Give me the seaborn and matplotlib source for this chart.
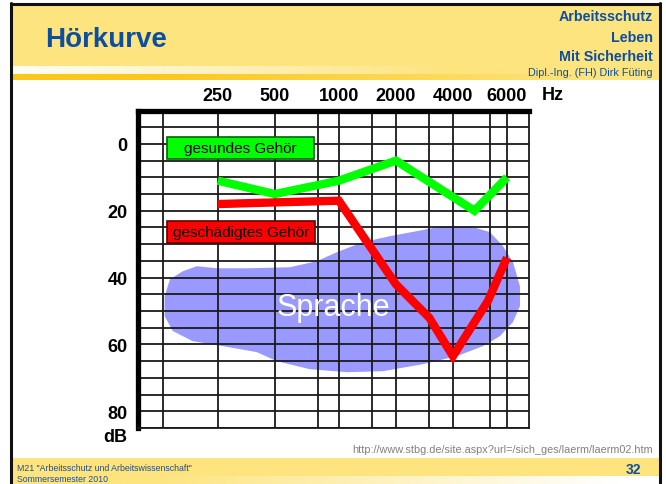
# Hörkurve - Audiogramm (Folie 32)

import numpy as np
import matplotlib
matplotlib.use("Agg")
import matplotlib.pyplot as plt
import seaborn as sns
from matplotlib.patches import Rectangle
from matplotlib import font_manager, colors as mcolors

# Daten
freqs = [250, 500, 1000, 2000, 4000, 6000]
freq_labels = ["250", "500", "1000", "2000", "4000", "6000"]
db_ticks = [0, 20, 40, 60, 80]
db_labels = ["0", "20", "40", "60", "80"]

healthy_hz = [250, 500, 1000, 2000, 4700, 6000]
healthy_db = [11, 15, 11, 5, 20, 10]

damaged_hz = [250, 500, 1000, 2000, 3000, 4000, 5200, 6000]
damaged_db = [18, 17.5, 17, 42, 52, 63.5, 47, 34]

# Sprachbereich ("Sprache"), Umriss
speech_hz = [128, 137, 161, 192, 247, 369, 588, 788, 978, 1339, 1859, 2582, 3543,
             4545, 5280, 5823, 6490, 7110, 7110, 6490, 5694, 5011, 4121, 2778,
             1708, 1102, 730, 511, 402, 266, 182, 142, 128]
speech_db = [45.6, 40.5, 38.1, 36.6, 37.2, 37.2, 36.9, 35.1, 32.4, 29.4, 27.6, 26.1, 24.6,
             24.6, 26.4, 30.6, 35.4, 42.6, 48.5, 53.3, 57.5, 60.5, 63.5, 65.9,
             68.0, 68.3, 67.4, 65.0, 62.3, 60.5, 59.0, 56.0, 51.5]

# Audiogramm-Spalten: Frequenz -> Spaltenposition (nicht logarithmisch gleichmaessig)
col_hz = [62.5, 125, 250, 500, 1000, 2000, 4000, 6000, 8000, 16000]
col_pos = [108, 163, 218, 275, 339, 396, 453, 507, 529, 582]
minor_hz = [125, 800, 1500, 3000, 5300]


def fwd(f):
    f = np.clip(np.asarray(f, dtype=float), 1e-3, None)
    return np.interp(np.log2(f), np.log2(col_hz), col_pos)


def inv(p):
    return 2 ** np.interp(np.asarray(p, dtype=float), col_pos, np.log2(col_hz))


sns.set_theme(style="white")
installed = {f.name for f in font_manager.fontManager.ttflist}
narrow = "Liberation Sans Narrow" if "Liberation Sans Narrow" in installed else None
plt.rcParams["font.family"] = ["Liberation Sans", "DejaVu Sans"]

BLUE = "#0b4ea2"
YELLOW = "#fde47e"
ORANGE = "#fbc71b"
GRID = "#1a1a1a"

W, H = 666, 485
fig = plt.figure(figsize=(W / 100, H / 100), dpi=100)

# Folienhintergrund in Pixelkoordinaten
bg = fig.add_axes([0, 0, 1, 1], zorder=-1)
bg.set_xlim(0, W)
bg.set_ylim(H, 0)
bg.axis("off")


def hgrad(c_left, c_right, x_from, x_to, x0, x1, y0, y1):
    xs = np.linspace(x0, x1, 300)
    t = np.clip((xs - x_from) / (x_to - x_from), 0, 1)
    a = np.array(mcolors.to_rgb(c_left))
    b = np.array(mcolors.to_rgb(c_right))
    img = (a[None, :] * (1 - t[:, None]) + b[None, :] * t[:, None])[None, :, :]
    bg.imshow(img, extent=[x0, x1, y1, y0], aspect="auto", interpolation="bilinear")


bg.add_patch(Rectangle((12, 5), 647, 62, color=YELLOW, lw=0))
hgrad("#fffdf4", YELLOW, 20, 450, 12, 659, 67, 75)
hgrad(ORANGE, YELLOW, 150, 600, 12, 659, 75, 81)
bg.add_patch(Rectangle((12, 459), 647, 18, color=YELLOW, lw=0))
hgrad(YELLOW, "#ffffff", 150, 620, 12, 659, 477, 486)
bg.set_xlim(0, W)
bg.set_ylim(H, 0)
bg.plot([11, 11], [4, H], color="#111111", lw=2.2)
bg.plot([660, 660], [4, H], color="#111111", lw=2.2)
bg.plot([11, 660], [4.5, 4.5], color="#111111", lw=2.2)

# schmale Schrift, falls vorhanden, sonst kleinere Liberation Sans
if narrow:
    hdr = dict(family=narrow, weight="bold")
    title_size, hdr_size, foot = 23, 12, dict(family=narrow, fontsize=7.6)
else:
    hdr = dict(weight="bold")
    title_size, hdr_size, foot = 20, 10.3, dict(fontsize=6.3)

bg.text(45, 47, "Hörkurve", fontsize=title_size, color=BLUE,
        va="baseline", ha="left", **hdr)
for txt, y in [("Arbeitsschutz", 17), ("Leben", 38), ("Mit Sicherheit", 57)]:
    bg.text(653, y, txt, fontsize=hdr_size, color=BLUE,
            ha="right", va="center", **hdr)
bg.text(653, 73, "Dipl.-Ing. (FH) Dirk Füting", fontsize=7.8, color=BLUE,
        ha="right", va="center")
bg.text(653, 450, "http://www.stbg.de/site.aspx?url=/sich_ges/laerm/laerm02.htm",
        fontsize=7.8, color="#808080", ha="right", va="center")
bg.text(17, 469, 'M21 "Arbeitsschutz und Arbeitswissenschaft"',
        color="#1f4f94", ha="left", va="center", **foot)
bg.text(17, 479.5, "Sommersemester 2010", color="#1f4f94",
        ha="left", va="center", **foot)
bg.text(633, 470, "32", weight="bold", fontsize=10, color=BLUE,
        ha="center", va="center")
bg.text(127, 438, "dB", weight="bold", fontsize=13, color="black",
        ha="right", va="center")
bg.text(553, 96, "Hz", weight="bold", fontsize=13, color="black",
        ha="center", va="center")

# Audiogramm
ax = fig.add_axes([137.5 / W, (H - 429) / H, (529 - 137.5) / W, (429 - 111.5) / H])
ax.set_facecolor("white")
ax.set_xscale("function", functions=(fwd, inv))
ax.set_xlim(91, 8000)
ax.set_ylim(85, -10)

ax.fill(speech_hz, speech_db, color="#9999ff", lw=0, zorder=0.2)

sns.lineplot(x=healthy_hz, y=healthy_db, ax=ax, color="#00ff00", lw=6,
             estimator=None, sort=False, zorder=3,
             solid_joinstyle="miter", solid_capstyle="butt")
sns.lineplot(x=damaged_hz, y=damaged_db, ax=ax, color="#ff0000", lw=6,
             estimator=None, sort=False, zorder=3,
             solid_joinstyle="miter", solid_capstyle="butt")

ax.set_xticks(freqs)
ax.set_xticklabels(freq_labels, fontsize=13, fontweight="bold")
ax.set_xticks(minor_hz, minor=True)
ax.xaxis.set_minor_formatter(matplotlib.ticker.NullFormatter())
ax.set_yticks(db_ticks)
ax.set_yticklabels(db_labels, fontsize=13, fontweight="bold")
ax.set_yticks(np.arange(-10, 86, 5), minor=True)
ax.xaxis.tick_top()
ax.tick_params(axis="x", which="both", length=0, pad=4.5, colors="black")
ax.tick_params(axis="y", which="both", length=0, pad=7, colors="black")
ax.set_axisbelow(True)
ax.grid(True, which="both", color=GRID, lw=1.3)
ax.set_xlabel("")
ax.set_ylabel("")

for side in ["left", "top"]:
    ax.spines[side].set_linewidth(3.8)
    ax.spines[side].set_color("black")
for side in ["right", "bottom"]:
    ax.spines[side].set_linewidth(1.3)
    ax.spines[side].set_color(GRID)
    ax.spines[side].set_visible(True)

# Beschriftungskaesten
x0 = (167 - 137.5) / 391.5
ax.add_patch(Rectangle((x0, (429 - 160) / 317.5), 147 / 391.5, 22 / 317.5,
                       transform=ax.transAxes, facecolor="#00ff00",
                       edgecolor="#006400", lw=1.2, zorder=4))
ax.text(x0 + 147 / 391.5 / 2, (429 - 149) / 317.5, "gesundes Gehör",
        transform=ax.transAxes, fontsize=11, ha="center", va="center",
        color="black", zorder=5)
ax.add_patch(Rectangle((x0, (429 - 244) / 317.5), 148 / 391.5, 22 / 317.5,
                       transform=ax.transAxes, facecolor="#ff0000",
                       edgecolor="#600000", lw=1.2, zorder=4))
ax.text(x0 + 148 / 391.5 / 2, (429 - 233) / 317.5, "geschädigtes Gehör",
        transform=ax.transAxes, fontsize=11, ha="center", va="center",
        color="black", zorder=5)

ax.text((333 - 137.5) / 391.5, (429 - 308) / 317.5, "Sprache",
        transform=ax.transAxes, fontsize=22, ha="center", va="center",
        color="white", zorder=4)

fig.savefig("out.png", dpi=100)
